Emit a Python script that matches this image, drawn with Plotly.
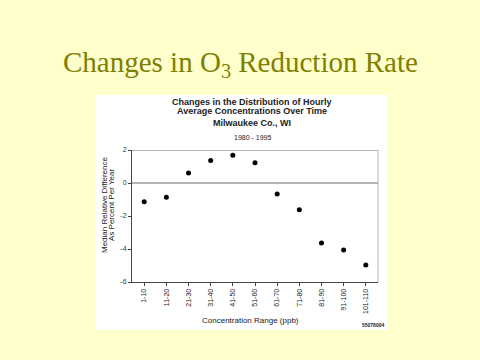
import plotly.graph_objects as go

categories = ["1-10", "11-20", "21-30", "31-40", "41-50", "51-60",
              "61-70", "71-80", "81-90", "91-100", "101-110"]
median_diff = [-1.13, -0.87, 0.60, 1.37, 1.68, 1.23, -0.67, -1.62, -3.64, -4.06, -4.97]
y_ticks = [2, 0, -2, -4, -6]
y_tick_labels = ["2", "0", "-2", "-4", "-6"]

W, H = 480, 360
L, R, T, B = 132, 378, 150, 282  # plot area in px

def px(x):
    return (x - L) / (R - L)

def py(y):
    return (B - y) / (B - T)

fig = go.Figure()
fig.add_trace(go.Scatter(
    x=list(range(len(categories))), y=median_diff, mode="markers",
    marker=dict(color="black", size=5), showlegend=False, cliponaxis=False))

fig.update_layout(
    width=W, height=H,
    margin=dict(l=L, r=W - R, t=T, b=H - B),
    paper_bgcolor="#FFFFCC", plot_bgcolor="white",
    font=dict(family="Liberation Sans, Arial, sans-serif", color="#222"),
    xaxis=dict(range=[-0.55, 10.55], tickmode="array",
               tickvals=list(range(len(categories))), ticktext=categories,
               tickangle=-90, tickfont=dict(size=7, color="#222"),
               showgrid=False, zeroline=False, showline=True, linecolor="#444",
               linewidth=1, ticks="outside", ticklen=3, tickcolor="#444"),
    yaxis=dict(range=[-6, 2], tickmode="array", tickvals=y_ticks,
               ticktext=y_tick_labels, tickfont=dict(size=7, color="#333"),
               showgrid=False, zeroline=False, showline=True, linecolor="#444",
               linewidth=1, ticks="outside", ticklen=3, tickcolor="#444"),
)

# white panel behind chart
fig.add_shape(type="rect", xref="paper", yref="paper",
              x0=px(96), x1=px(387), y0=py(330), y1=py(95),
              fillcolor="white", line=dict(width=0), layer="below")
# gray reference lines at 2 and 0, right border
fig.add_shape(type="line", xref="paper", yref="y", x0=0, x1=1, y0=2, y1=2,
              line=dict(color="#b4b4b4", width=2))
fig.add_shape(type="line", xref="paper", yref="y", x0=0, x1=1, y0=0, y1=0,
              line=dict(color="#b4b4b4", width=2))
fig.add_shape(type="line", xref="paper", yref="paper", x0=1, x1=1, y0=0, y1=1,
              line=dict(color="#b4b4b4", width=1))

def ann(text, x, y, size, bold=False, family="Liberation Sans, Arial, sans-serif",
        color="#222", angle=0, xanchor="center"):
    t = f"<b>{text}</b>" if bold else text
    fig.add_annotation(text=t, xref="paper", yref="paper", x=px(x), y=py(y),
                       showarrow=False, textangle=angle, xanchor=xanchor,
                       yanchor="middle", font=dict(size=size, family=family, color=color))

ann("Changes in O<sub>3</sub> Reduction Rate", 240, 64, 29,
    family="Liberation Serif", color="#808000")
ann("Changes in the Distribution of Hourly", 252, 102, 9, bold=True)
ann("Average Concentrations Over Time", 252, 111, 9, bold=True)
ann("Milwaukee Co., WI", 252, 123, 9, bold=True)
ann("1980 - 1995", 252, 137, 7)
ann("Median Relative Difference", 104, 205, 8, angle=-90)
ann("As Percent Per Year", 111, 205, 8, angle=-90)
ann("Concentration Range (ppb)", 250, 320, 8)
ann("55078004", 373, 325, 5, bold=True)

fig.write_html("out.html", config={"displayModeBar": False},
               post_script="document.body.style.margin='0';"
                           "document.body.style.background='#FFFFCC';")
